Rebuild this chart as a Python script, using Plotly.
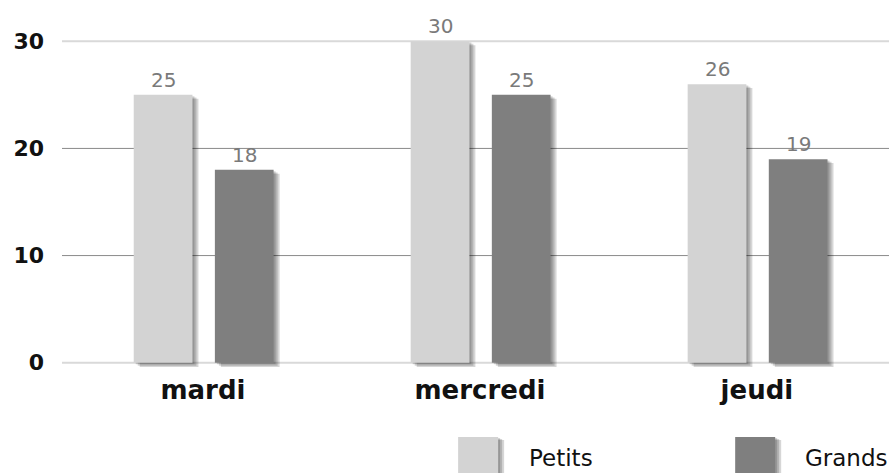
import plotly.graph_objects as go

# Chart data
days = ["mardi", "mercredi", "jeudi"]
series_names = ["Petits", "Grands"]
petits = [25, 30, 26]
grands = [18, 25, 19]
y_ticks = [0, 10, 20, 30]

colors = {"Petits": "#d3d3d3", "Grands": "#7f7f7f"}
values = {"Petits": petits, "Grands": grands}
offsets = {"Petits": -0.25, "Grands": 0.043}
BAR_W = 0.212
PX = 1 / 277.0  # one pixel in category units
FONT = "DejaVu Sans, Open Sans, sans-serif"

fig = go.Figure()
xs = list(range(len(days)))

# soft drop shadows behind each bar (right side and below the baseline)
for name in series_names:
    for k in (3, 2, 1):
        drop_base = -0.14 * k
        drop_top = 0.12 * k
        fig.add_trace(go.Bar(
            x=xs, y=[v - drop_top - drop_base for v in values[name]],
            base=[drop_base] * len(days),
            offset=offsets[name] + 2 * k * PX, width=BAR_W,
            marker=dict(color="rgba(0,0,0,0.16)", line=dict(width=0)),
            showlegend=False, hoverinfo="skip", cliponaxis=False,
        ))

# main bars
for name in series_names:
    fig.add_trace(go.Bar(
        x=xs, y=values[name], name=name,
        offset=offsets[name], width=BAR_W,
        marker=dict(color=colors[name], line=dict(width=0)),
        showlegend=False, cliponaxis=False,
    ))

# value labels above bars
annotations = []
for name in series_names:
    for i, v in enumerate(values[name]):
        annotations.append(dict(
            x=i + offsets[name] + BAR_W / 2, y=v, xref="x", yref="y",
            text=str(v), showarrow=False, yanchor="bottom", yshift=1,
            font=dict(family=FONT, size=20, color="#7a7a7a"),
        ))

# horizontal grid lines
shapes = []
for t in y_ticks:
    edge = t in (y_ticks[0], y_ticks[-1])
    shapes.append(dict(
        type="line", xref="paper", yref="y", x0=0, x1=1, y0=t, y1=t,
        line=dict(color="#d9d9d9" if edge else "#8a8a8a", width=2 if edge else 1),
        layer="below",
    ))

# custom legend with large swatches
legend_pos = {"Petits": (0.479, 0.562), "Grands": (0.814, 0.896)}
for name in series_names:
    sx, tx = legend_pos[name]
    w = 40 / 827.0
    for k in (3, 2, 1):
        shapes.append(dict(
            type="rect", xref="paper", yref="paper",
            x0=sx + (2 * k) / 827.0, x1=sx + w + (2 * k) / 827.0,
            y0=-0.40, y1=-0.212 - 0.003 * k,
            fillcolor="rgba(0,0,0,0.16)", line=dict(width=0),
        ))
    shapes.append(dict(
        type="rect", xref="paper", yref="paper",
        x0=sx, x1=sx + w, y0=-0.40, y1=-0.212,
        fillcolor=colors[name], line=dict(width=0),
    ))
    annotations.append(dict(
        x=tx, y=-0.276, xref="paper", yref="paper", text=name,
        showarrow=False, xanchor="left", yanchor="middle",
        font=dict(family=FONT, size=23, color="#111111"),
    ))

fig.update_layout(
    width=889, height=473,
    margin=dict(l=62, r=0, t=37, b=106),
    paper_bgcolor="white", plot_bgcolor="white",
    barmode="overlay",
    showlegend=False,
    shapes=shapes, annotations=annotations,
    xaxis=dict(
        range=[-0.509, 2.477], tickmode="array", tickvals=xs, ticktext=days,
        showgrid=False, zeroline=False, showline=False, ticks="",
        tickfont=dict(family=FONT, size=26, color="#111111", weight="bold"),
        ticklabelstandoff=5,
    ),
    yaxis=dict(
        range=[-0.4, 30.4], tickmode="array", tickvals=y_ticks,
        showgrid=False, zeroline=False, showline=False, ticks="",
        tickfont=dict(family=FONT, size=22, color="#111111", weight="bold"),
        ticklabelstandoff=17,
    ),
)

fig.write_html("out.html")
